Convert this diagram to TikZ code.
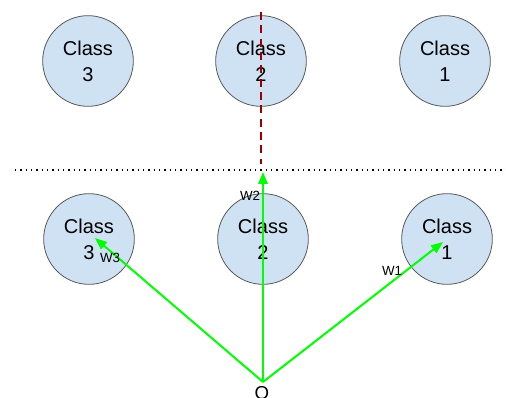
\documentclass[tikz,border=0pt]{standalone}
\usepackage{fontspec}
\setmainfont{Liberation Sans}
\usetikzlibrary{arrows.meta}
\definecolor{cfill}{HTML}{CFE2F3}
\definecolor{cline}{HTML}{595959}
\definecolor{vgreen}{HTML}{00FF00}
\definecolor{dred}{HTML}{990000}
\begin{document}
\begin{tikzpicture}[x=0.75pt,y=-0.75pt,
  cls/.style={circle,draw=cline,line width=0.6pt,fill=cfill,minimum size=68pt,inner sep=0pt,
    align=center,font=\fontsize{15}{19.5}\selectfont},
  vec/.style={draw=vgreen,line width=1.5pt,-{Triangle[length=9pt,width=7pt]}},
  wlab/.style={font=\fontsize{10}{11}\selectfont,inner sep=1pt}]
\useasboundingbox (0,0) rectangle (506,398);
\node[cls] (t3) at (88,61) {Class\\3};
\node[cls] (t2) at (261,61) {Class\\2};
\node[cls] (t1) at (445,61) {Class\\1};
\node[cls] (b3) at (89,239) {Class\\3};
\node[cls] (b2) at (263,239) {Class\\2};
\node[cls] (b1) at (447,239) {Class\\1};
\coordinate (dl) at (15,170);
\coordinate (dr) at (506,170);
\draw[line width=1pt,dash pattern=on 0.9pt off 3.1pt] (dl) -- (dr);
\coordinate (rtop) at (261,12);
\coordinate (rbot) at (261,164);
\draw[dred,line width=1.2pt,dash pattern=on 6pt off 4pt] (rtop) -- (rbot);
\coordinate (O) at (263,382);
\coordinate (w2) at (263,172);
\coordinate (w3) at (95,238);
\coordinate (w1) at (443,242);
\draw[vec] (O) -- (w2);
\draw[vec] (O) -- (w3);
\draw[vec] (O) -- (w1);
\node[wlab] (l2) at (250,196) {W2};
\node[wlab] (l3) at (110,258) {W3};
\node[wlab] (l1) at (392,271) {W1};
\node[font=\fontsize{14}{16}\selectfont,anchor=north,inner sep=0pt] (ol) at (262,386) {O};
\end{tikzpicture}
\end{document}
